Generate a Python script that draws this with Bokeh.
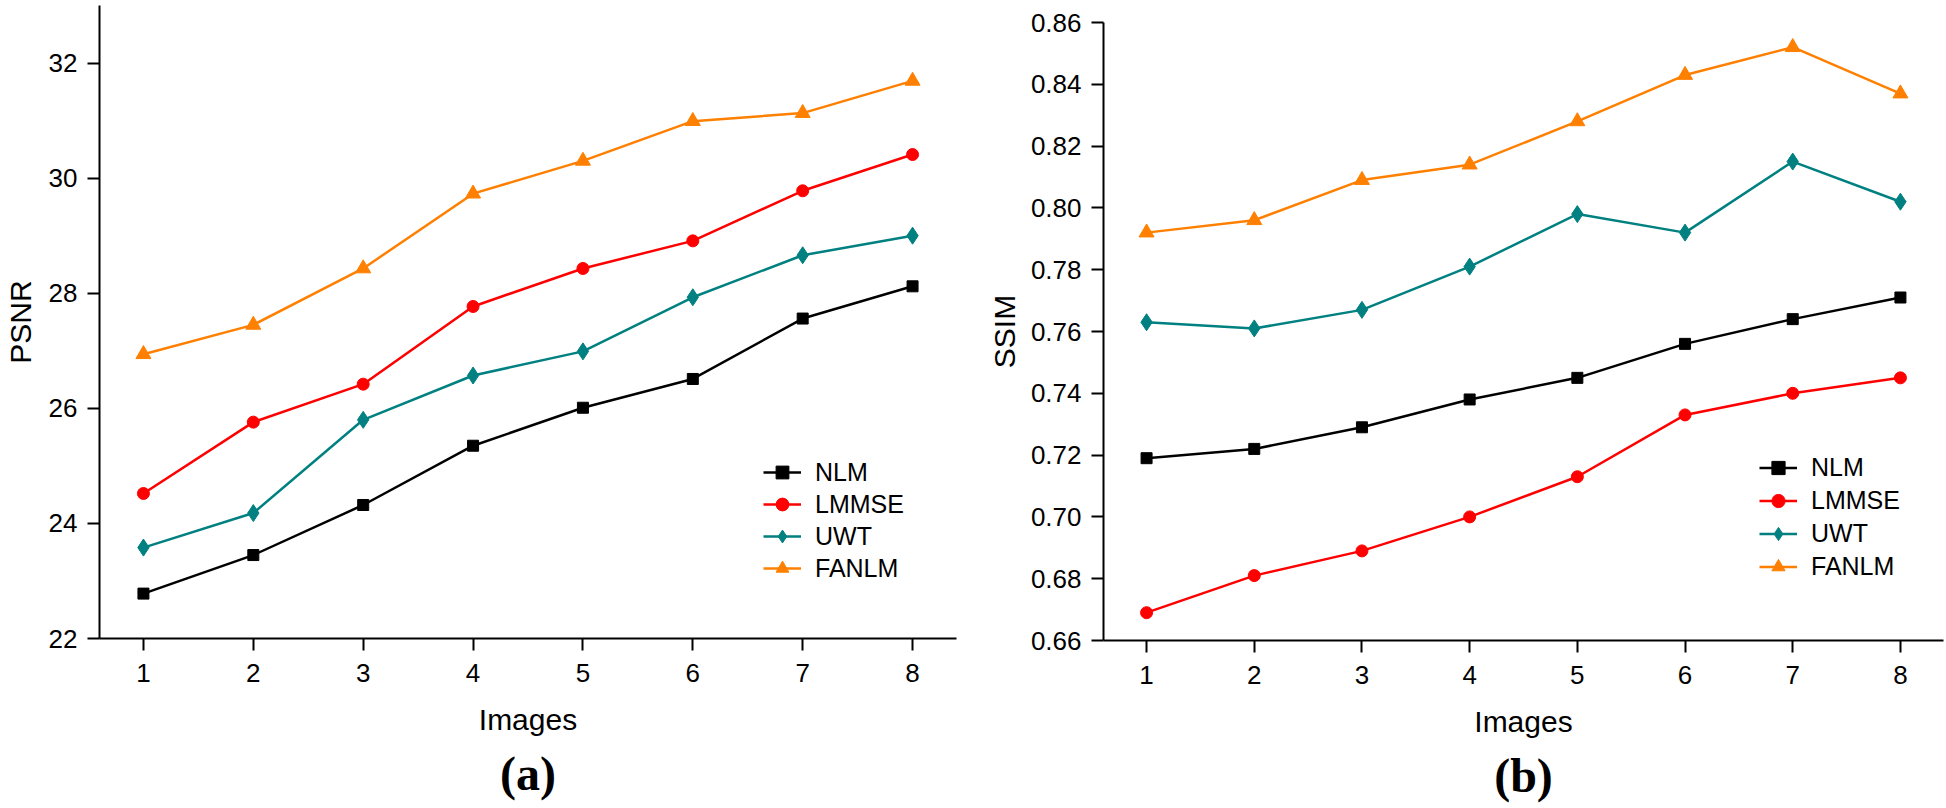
from bokeh.plotting import figure
from bokeh.models import FixedTicker, NumeralTickFormatter, Legend, LegendItem, Title, Range1d
from bokeh.layouts import row, column
from bokeh.embed import file_html
from bokeh.resources import INLINE

images = [1, 2, 3, 4, 5, 6, 7, 8]
series_names = ["NLM", "LMMSE", "UWT", "FANLM"]

psnr_nlm = [22.78, 23.45, 24.32, 25.35, 26.01, 26.51, 27.56, 28.12]
psnr_lmmse = [24.52, 25.76, 26.42, 27.77, 28.43, 28.91, 29.78, 30.41]
psnr_uwt = [23.58, 24.18, 25.80, 26.57, 26.99, 27.93, 28.66, 29.00]
psnr_fanlm = [26.94, 27.45, 28.43, 29.73, 30.30, 30.99, 31.13, 31.69]

ssim_nlm = [0.719, 0.722, 0.729, 0.738, 0.745, 0.756, 0.764, 0.771]
ssim_lmmse = [0.669, 0.681, 0.689, 0.700, 0.713, 0.733, 0.740, 0.745]
ssim_uwt = [0.763, 0.761, 0.767, 0.781, 0.798, 0.792, 0.815, 0.802]
ssim_fanlm = [0.792, 0.796, 0.809, 0.814, 0.828, 0.843, 0.852, 0.837]

psnr_ticks = [22, 24, 26, 28, 30, 32]
ssim_ticks = [0.66, 0.68, 0.70, 0.72, 0.74, 0.76, 0.78, 0.80, 0.82, 0.84, 0.86]

colors = {"NLM": "#000000", "LMMSE": "#FF0000", "UWT": "#008080", "FANLM": "#FF8000"}
markers = {"NLM": "square", "LMMSE": "circle", "UWT": "diamond", "FANLM": "triangle"}
msizes = {"NLM": 11, "LMMSE": 12, "UWT": 17, "FANLM": 15}

FONT = "Liberation Sans"


def make_panel(series, yticks, yrange, ylabel, fmt, tag, width, height, borders,
               legend_loc, glyph_h, ylabel_standoff):
    p = figure(width=width, height=height, output_backend="svg", toolbar_location=None,
               x_range=Range1d(0.6, 8.4), y_range=Range1d(*yrange),
               min_border_left=borders[0], min_border_right=borders[1],
               min_border_top=borders[2], min_border_bottom=borders[3])
    p.outline_line_color = None
    p.xgrid.visible = False
    p.ygrid.visible = False
    p.background_fill_color = "white"
    p.border_fill_color = "white"

    items = []
    for name, ys in zip(series_names, series):
        lr = p.line(images, ys, line_color=colors[name], line_width=2.5)
        sr = p.scatter(images, ys, marker=markers[name], size=msizes[name],
                       fill_color=colors[name], line_color=colors[name])
        items.append(LegendItem(label=name, renderers=[lr, sr]))

    for ax in (p.xaxis[0], p.yaxis[0]):
        ax.axis_line_width = 2
        ax.axis_line_color = "black"
        ax.major_tick_line_width = 2
        ax.major_tick_line_color = "black"
        ax.major_tick_out = 12
        ax.major_tick_in = 0
        ax.minor_tick_out = 0
        ax.minor_tick_in = 0
        ax.major_label_text_font = FONT
        ax.major_label_text_font_size = "26px"
        ax.major_label_text_color = "black"
        ax.axis_label_text_font = FONT
        ax.axis_label_text_font_size = "30px"
        ax.axis_label_text_font_style = "normal"
        ax.axis_label_text_color = "black"

    p.xaxis.ticker = FixedTicker(ticks=images)
    p.xaxis.axis_label = "Images"
    p.xaxis.major_label_standoff = 13
    p.xaxis.axis_label_standoff = 18
    p.yaxis.ticker = FixedTicker(ticks=yticks)
    p.yaxis.formatter = NumeralTickFormatter(format=fmt)
    p.yaxis.axis_label = ylabel
    p.yaxis.major_label_standoff = 10
    p.yaxis.axis_label_standoff = ylabel_standoff

    legend = Legend(items=items, location=legend_loc, padding=0, margin=0, spacing=0,
                    glyph_width=38, glyph_height=glyph_h, label_standoff=14,
                    label_height=glyph_h,
                    label_text_font=FONT, label_text_font_size="25px",
                    label_text_color="black", border_line_alpha=0,
                    background_fill_alpha=0)
    p.add_layout(legend)

    p.add_layout(Title(text=tag, align="center", text_font="Liberation Serif",
                       text_font_size="48px", text_font_style="bold",
                       text_color="black", standoff=12), "below")
    return p


left = make_panel([psnr_nlm, psnr_lmmse, psnr_uwt, psnr_fanlm], psnr_ticks, (22, 33),
                  "PSNR", "0", "(a)", 984, 808, (95, 28, 5, 170), (664, 54), 32, 9)
right = make_panel([ssim_nlm, ssim_lmmse, ssim_uwt, ssim_fanlm], ssim_ticks, (0.66, 0.86),
                   "SSIM", "0.00", "(b)", 962, 808, (116, 3, 22, 168), (656, 57), 33, 7)

layout = row(column(left), column(right))
open("out.html", "w").write(file_html(layout, INLINE))
